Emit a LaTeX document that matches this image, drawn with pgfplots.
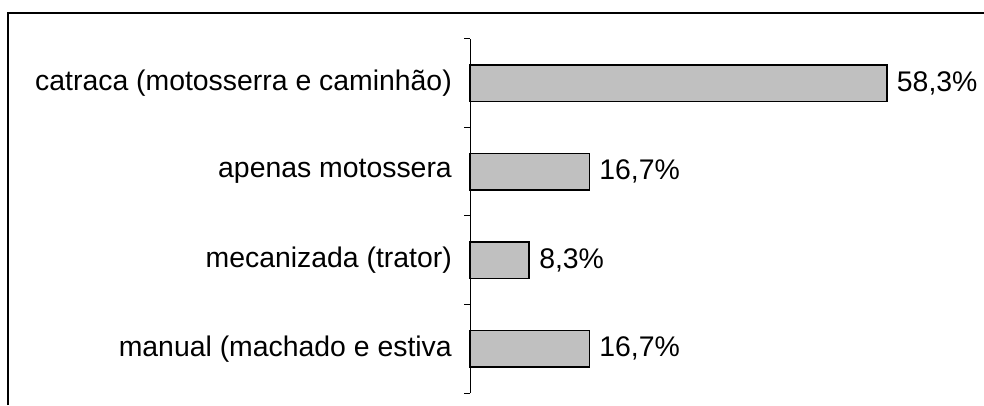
\documentclass[border=0pt]{standalone}
\usepackage{pgfplots}
\pgfplotsset{compat=1.18}
\usepackage{fontspec}
\setmainfont{Liberation Sans}
\begin{document}
\begin{tikzpicture}[x=1bp,y=1bp]
\path[use as bounding box] (0,0) rectangle (984,405);
\draw[line width=2bp] (8,0) -- (8,392) -- (984,392);
\begin{axis}[
  at={(470bp,12bp)}, anchor=south west,
  x=7.153bp, y=88.5bp,
  xmin=0, xmax=70, ymin=-0.5, ymax=3.5,
  axis x line=none,
  axis y line*=left,
  axis line style={line width=1bp, -},
  ytick={0,1,2,3},
  yticklabels={manual (machado e estiva,mecanizada (trator),apenas motossera,catraca (motosserra e caminhão)},
  major tick length=0pt,
  minor ytick={-0.5,0.5,1.5,2.5,3.5},
  minor tick length=6bp,
  tick align=outside,
  minor tick style={line width=1bp, black},
  yticklabel style={font=\fontsize{28.5}{34}\selectfont, anchor=east, inner sep=0pt, xshift=-18bp},
  xbar, bar width=36.5bp,
  clip=false,
  nodes near coords,
  point meta=explicit symbolic,
  nodes near coords style={font=\fontsize{28.5}{34}\selectfont, anchor=west, inner sep=0pt, xshift=9bp},
]
\addplot[fill={rgb,255:red,192;green,192;blue,192}, draw=black, line width=1.8bp] table[meta=lab] {
x y lab
16.7 0 16,7\%
8.3 1 8,3\%
16.7 2 16,7\%
58.3 3 58,3\%
};
\end{axis}
\end{tikzpicture}
\end{document}
